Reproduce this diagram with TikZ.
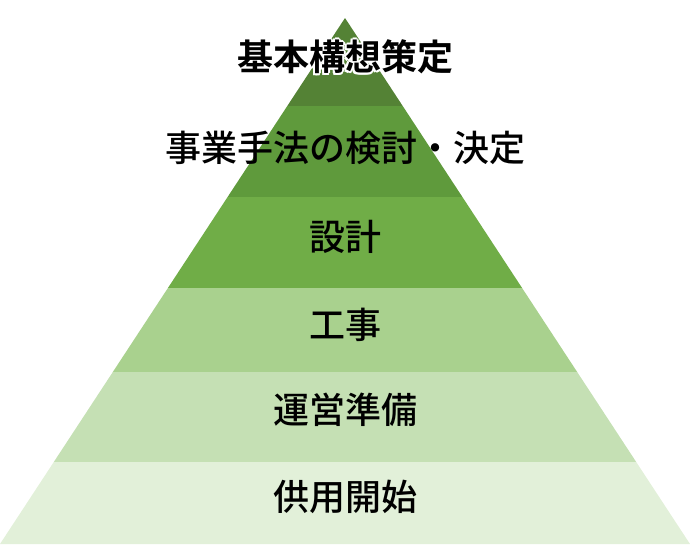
\documentclass[tikz,border=0pt]{standalone}
\usepackage{fontspec}
\newfontfamily\cjk{Noto Sans CJK JP Medium}
\newfontfamily\cjkb{Noto Sans CJK JP Bold}
\begin{document}
\begin{tikzpicture}[x=1pt,y=-1pt,
  lbl/.style={font=\cjk\fontsize{36}{36}\selectfont,text=black,inner sep=0pt},
  ttl/.style={font=\cjkb\fontsize{36}{36}\selectfont,inner sep=0pt}]
\useasboundingbox (0,0) rectangle (690,544);
\def\bands{18/106/548235,106/197/5F9A3C,197/288/70AD47,288/372/A9D18E,372/462/C5E0B4,462/544/E2F0D9}
\foreach \a/\b/\c in \bands {
  \definecolor{bc}{HTML}{\c}
  \pgfmathsetmacro\xa{0.65589*(\a-18)}
  \pgfmathsetmacro\xb{0.65589*(\b-18)}
  \fill[bc] (345-\xa,\a) -- (345+\xa,\a) -- (345+\xb,\b) -- (345-\xb,\b) -- cycle;
}
\foreach \dx/\dy in {-2/0,2/0,0/-2,0/2,-1.5/-1.5,1.5/1.5,-1.5/1.5,1.5/-1.5}
  \node[ttl,text=white] at (345+\dx,57+\dy) {基本構想策定};
\node[ttl] (t1) at (345,57) {基本構想策定};
\node[lbl] (t2) at (345,148) {事業手法の検討・決定};
\node[lbl] (t3) at (345,237) {設計};
\node[lbl] (t4) at (345,325) {工事};
\node[lbl] (t5) at (345,410) {運営準備};
\node[lbl] (t6) at (345,497) {供用開始};
\end{tikzpicture}
\end{document}
